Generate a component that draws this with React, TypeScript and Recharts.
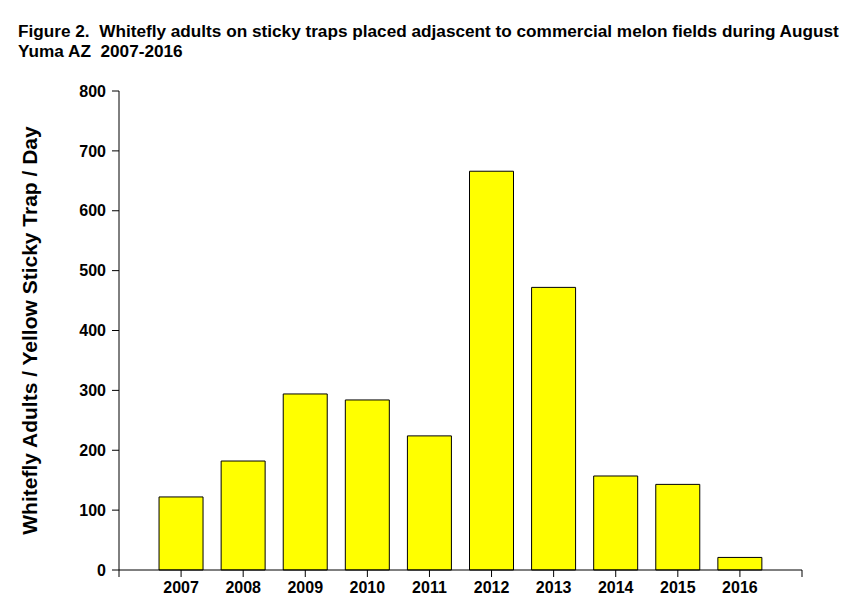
import { BarChart, Bar, XAxis, YAxis } from 'recharts'

const years = [2007, 2008, 2009, 2010, 2011, 2012, 2013, 2014, 2015, 2016]
const adults = [122, 182, 294, 284, 224, 666, 472, 157, 143, 21]
const yTicks = [0, 100, 200, 300, 400, 500, 600, 700, 800]
const xTicks = [2006, 2007, 2008, 2009, 2010, 2011, 2012, 2013, 2014, 2015, 2016, 2017]

const data = years.map((year, i) => ({ year, adults: adults[i] }))

const font = 'Arial, "Liberation Sans", sans-serif'

export default function App() {
    return (
        <div style={{ position: 'absolute', left: 0, top: 0, width: 853, height: 602, background: '#fff', fontFamily: font }}>
            <div style={{ position: 'absolute', left: 18, top: 21, fontSize: 17.2, fontWeight: 'bold', lineHeight: '20px', color: '#000', whiteSpace: 'nowrap' }}>
                <div>Figure 2.&nbsp; Whitefly adults on sticky traps placed adjascent to commercial melon fields during August</div>
                <div>Yuma AZ&nbsp; 2007-2016</div>
            </div>
            <BarChart width={853} height={602} data={data} margin={{ top: 91, right: 51, bottom: 0, left: 0 }}>
                <XAxis
                    dataKey="year"
                    type="number"
                    domain={[2006, 2017]}
                    ticks={xTicks}
                    tickFormatter={(v: number) => (v === 2006 || v === 2017 ? '' : String(v))}
                    stroke="#000"
                    tickSize={7}
                    tick={{ fill: '#000', fontSize: 16, fontWeight: 'bold', fontFamily: font, dy: 3 }}
                    height={32}
                />
                <YAxis
                    domain={[0, 800]}
                    ticks={yTicks}
                    stroke="#000"
                    tickSize={7}
                    width={119}
                    tick={{ fill: '#000', fontSize: 16, fontWeight: 'bold', fontFamily: font, dx: -4 }}
                    label={{
                        value: 'Whitefly Adults / Yellow Sticky Trap / Day',
                        angle: -90,
                        position: 'insideLeft',
                        dx: 25,
                        dy: 0,
                        style: { textAnchor: 'middle', fill: '#000', fontSize: 21, fontWeight: 'bold', fontFamily: font },
                    }}
                />
                <Bar dataKey="adults" fill="#FFFF00" stroke="#000" strokeWidth={1} barSize={44} isAnimationActive={false} />
            </BarChart>
        </div>
    )
}
